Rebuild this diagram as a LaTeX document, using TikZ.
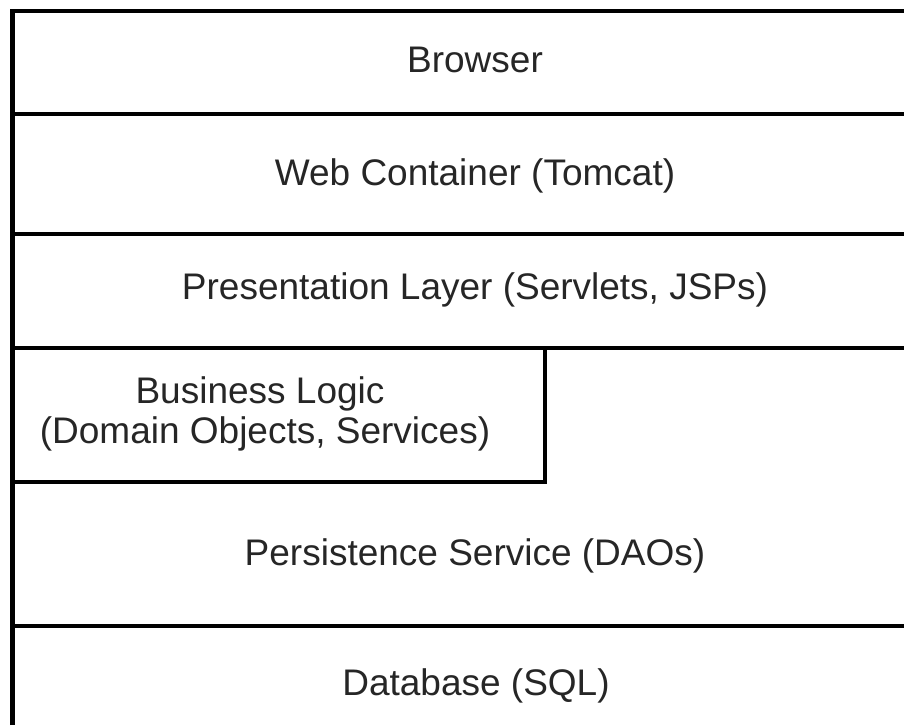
\documentclass[tikz,border=0pt]{standalone}
\usepackage{fontspec}
\setmainfont{Liberation Sans}
\begin{document}
\begin{tikzpicture}[x=1pt,y=-1pt,
  layerline/.style={line width=4.5pt,black},
  lbl/.style={anchor=base,inner sep=0pt,font=\fontsize{37}{40}\selectfont,text=black!85}]
\useasboundingbox[fill=white] (0,0) rectangle (904,725);
% frame lines
\draw[layerline] (12.5,725) -- (12.5,11) -- (904,11);
\draw[layerline] (12.5,114) -- (904,114);
\draw[layerline] (12.5,234) -- (904,234);
\draw[layerline] (12.5,348) -- (904,348);
\draw[layerline] (12.5,482) -- (545,482) -- (545,348);
\draw[layerline] (12.5,626) -- (904,626);
% labels
\node[lbl] (browser) at (475,72) {Browser};
\node[lbl] (web) at (475,185) {Web Container (Tomcat)};
\node[lbl] (pres) at (475,299) {Presentation Layer (Servlets, JSPs)};
\node[lbl] (bus1) at (260,403) {Business Logic};
\node[lbl] (bus2) at (265,443) {(Domain Objects, Services)};
\node[lbl] (pers) at (475,565) {Persistence Service (DAOs)};
\node[lbl] (db) at (476,695) {Database (SQL)};
\end{tikzpicture}
\end{document}
